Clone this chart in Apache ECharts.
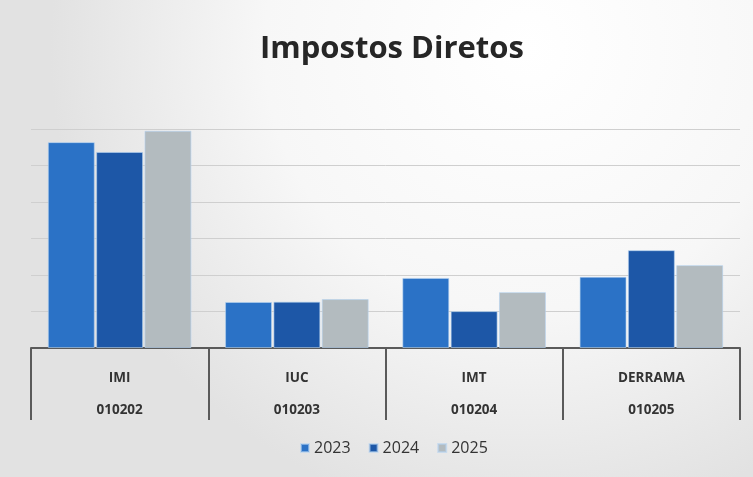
<!DOCTYPE html>
<html>
<head>
<meta charset="utf-8">
<script src="https://cdn.jsdelivr.net/npm/echarts@6/dist/echarts.min.js"></script>
<style>
  html, body { margin: 0; padding: 0; }
  #main { width: 753px; height: 477px; }
</style>
</head>
<body>
<div id="main"></div>
<script>
// dados (unidade = uma linha da grelha)
const categories = ['IMI', 'IUC', 'IMT', 'DERRAMA'];
const codes = ['010202', '010203', '010204', '010205'];
const years = ['2023', '2024', '2025'];
const values2023 = [5.64, 1.26, 1.92, 1.95];
const values2024 = [5.37, 1.27, 1.01, 2.68];
const values2025 = [5.95, 1.34, 1.53, 2.27];
const colors = ['#2b72c6', '#1d57a7', '#b3bbbf'];

const chart = echarts.init(document.getElementById('main'), null, { renderer: 'canvas' });

const seriesData = [values2023, values2024, values2025];

const option = {
    backgroundColor: {
        type: 'radial',
        x: 0.7, y: 0.1, r: 1.0,
        colorStops: [
            { offset: 0, color: '#ffffff' },
            { offset: 0.55, color: '#f7f7f7' },
            { offset: 1, color: '#e2e2e2' }
        ]
    },
    color: colors,
    title: {
        text: 'Impostos Diretos',
        left: 255,
        top: 29,
        textStyle: {
            fontFamily: 'Open Sans',
            fontWeight: 'bold',
            fontSize: 31,
            color: '#262626'
        }
    },
    legend: {
        data: years,
        bottom: 16,
        left: 295,
        itemWidth: 8,
        itemHeight: 8,
        itemGap: 18,
        icon: 'rect',
        textStyle: {
            fontFamily: 'Open Sans',
            fontSize: 16,
            color: '#333'
        }
    },
    grid: {
        left: 31,
        right: 13,
        top: 129,
        bottom: 129
    },
    xAxis: {
        type: 'category',
        data: categories,
        axisLine: {
            lineStyle: { color: '#5a5a5a', width: 2 }
        },
        axisTick: {
            show: true,
            length: 72,
            lineStyle: { color: '#5a5a5a', width: 2 }
        },
        axisLabel: {
            margin: 14,
            lineHeight: 32,
            fontFamily: 'Open Sans',
            fontWeight: 'bold',
            fontSize: 13.5,
            color: '#333',
            formatter: function (value, index) {
                return value + '\n' + codes[index];
            }
        }
    },
    yAxis: {
        type: 'value',
        min: 0,
        max: 6,
        interval: 1,
        axisLabel: { show: false },
        axisLine: { show: false },
        axisTick: { show: false },
        splitLine: {
            lineStyle: { color: '#cfcfcf', width: 1 }
        }
    },
    series: years.map(function (year, i) {
        return {
            name: year,
            type: 'bar',
            data: seriesData[i],
            barGap: '3%',
            barCategoryGap: '19%',
            itemStyle: {
                color: colors[i],
                borderColor: 'rgba(180,210,240,0.6)',
                borderWidth: 1
            }
        };
    })
};

chart.setOption(option);
</script>
</body>
</html>
